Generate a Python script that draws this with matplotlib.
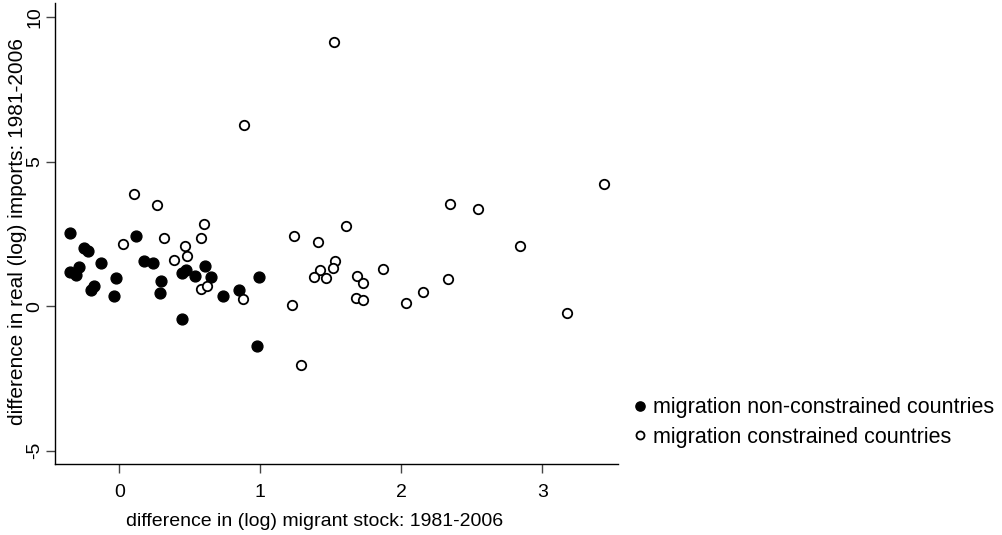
import matplotlib
matplotlib.use("Agg")
import matplotlib.pyplot as plt

plt.rcParams['font.family'] = ['Liberation Sans', 'DejaVu Sans']

# migration non-constrained countries (filled)
x_nc = [-0.353, -0.353, -0.308, -0.284, -0.253, -0.222, -0.201, -0.182, -0.130,
        -0.023, -0.035, 0.120, 0.177, 0.239, 0.298, 0.286, 0.445, 0.475, 0.534,
        0.609, 0.647, 0.445, 0.733, 0.846, 0.988, 0.976]
y_nc = [2.55, 1.20, 1.08, 1.36, 2.01, 1.93, 0.57, 0.71, 1.49,
        0.98, 0.34, 2.44, 1.57, 1.49, 0.86, 0.46, 1.15, 1.24, 1.06,
        1.40, 1.00, -0.43, 0.34, 0.57, 1.00, -1.39]

# migration constrained countries (hollow)
x_c = [0.106, 0.263, 0.022, 0.317, 0.600, 0.582, 0.466, 0.481, 0.390, 0.579,
       0.622, 0.873, 0.886, 1.236, 1.406, 1.610, 1.527, 1.517, 1.423, 1.380,
       1.463, 1.227, 1.291, 1.525, 3.434, 2.342, 2.544, 2.844, 1.687, 1.728,
       1.872, 1.678, 1.728, 2.031, 2.152, 2.333, 3.173]
y_c = [3.90, 3.49, 2.14, 2.36, 2.85, 2.35, 2.07, 1.75, 1.61, 0.61,
       0.69, 0.26, 6.28, 2.45, 2.22, 2.79, 1.58, 1.34, 1.26, 1.01,
       0.99, 0.05, -2.04, 9.16, 4.23, 3.55, 3.36, 2.08, 1.06, 0.79,
       1.30, 0.30, 0.20, 0.10, 0.49, 0.96, -0.25]

fig = plt.figure(figsize=(10.03, 5.35), dpi=100)
ax = fig.add_axes([0.0551, 0.1333, 0.5609, 0.8611])

ax.plot(x_nc, y_nc, 'o', color='black', markersize=7.8, linestyle='none',
        label='migration non-constrained countries')
ax.plot(x_c, y_c, 'o', markerfacecolor='white', markeredgecolor='black',
        markeredgewidth=1.3, markersize=6.8, linestyle='none',
        label='migration constrained countries')

ax.set_xlim(-0.455, 3.535)
ax.set_ylim(-5.45, 10.5)
ax.set_xticks([0, 1, 2, 3])
ax.set_yticks([-5, 0, 5, 10])
ax.set_yticklabels(['-5', '0', '5', '10'], rotation=90, va='center')

for s in ['top', 'right']:
    ax.spines[s].set_visible(False)
for s in ['left', 'bottom']:
    ax.spines[s].set_linewidth(1.0)
ax.tick_params(axis='both', length=6.5, width=1, color='#444444', labelsize=14)
ax.tick_params(axis='x', pad=8)
ax.tick_params(axis='y', pad=2)

ax.set_xlabel('difference in (log) migrant stock: 1981-2006', fontsize=14)
ax.xaxis.set_label_coords(0.4615, -0.108)
ax.set_ylabel('difference in real (log) imports: 1981-2006', fontsize=15)
ax.yaxis.set_label_coords(-0.05, 0.505)

fig.legend(loc='center left', bbox_to_anchor=(0.613, 0.2103), frameon=False,
           fontsize=15.5, handlelength=0.55, handletextpad=0.3,
           labelspacing=0.39, markerscale=0.85)

plt.savefig('out.png', dpi=100)
